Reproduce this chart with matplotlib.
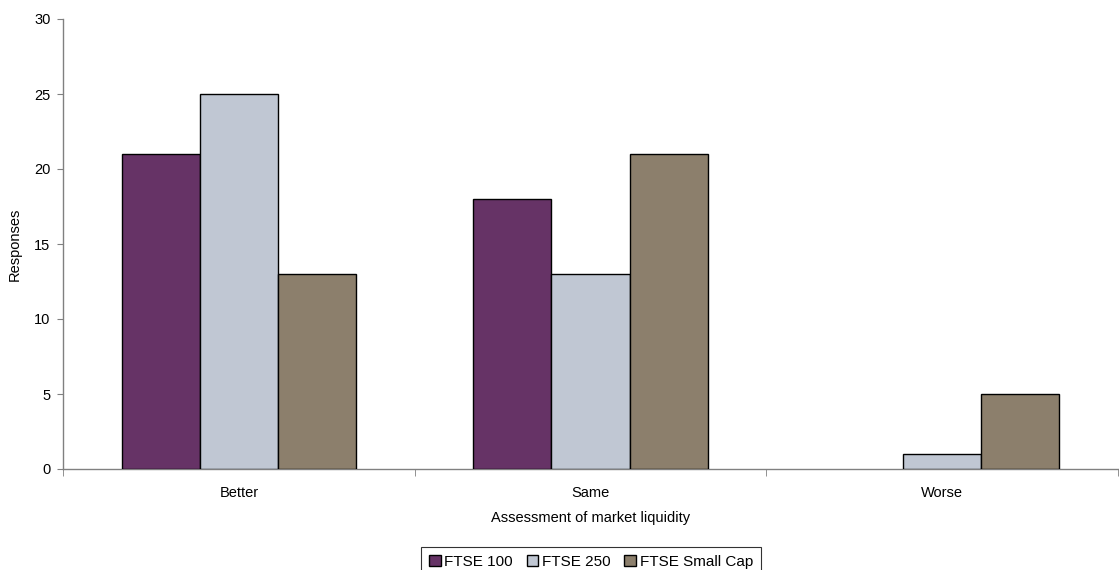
import numpy as np
import matplotlib
matplotlib.use("Agg")
import matplotlib.pyplot as plt

plt.rcParams['font.family'] = ['Liberation Sans', 'DejaVu Sans']

# --- Data ---
categories = ["Better", "Same", "Worse"]
series_names = ["FTSE 100", "FTSE 250", "FTSE Small Cap"]
ftse100 = [21, 18, 0]
ftse250 = [25, 13, 1]
small_cap = [13, 21, 5]
colors = ["#663366", "#C0C7D3", "#8C7F6C"]

fig = plt.figure(figsize=(11.19, 5.70), dpi=100)
ax = fig.add_axes([63 / 1119, 101 / 570, 1055 / 1119, 450 / 570])

x = np.arange(len(categories))
w = 0.222
for i, (vals, name) in enumerate(zip([ftse100, ftse250, small_cap], series_names)):
    lw = [1.0 if v > 0 else 0 for v in vals]
    ax.bar(x + (i - 1) * w, vals, width=w, color=colors[i], edgecolor="black",
           linewidth=lw, label=name, zorder=3)

ax.set_xlim(-0.5, len(categories) - 0.5)
ax.set_ylim(0, 30)
ax.set_yticks(np.arange(0, 31, 5))
ax.set_xticks(x)
ax.set_xticklabels(categories)
ax.set_xticks(np.arange(-0.5, len(categories), 1), minor=True)
ax.tick_params(axis='x', which='major', length=0, pad=12.5, labelsize=10.5)
ax.tick_params(axis='x', which='minor', length=5, color="#808080")
ax.tick_params(axis='y', length=4, color="#808080", labelsize=10.5, pad=5)

for s in ["top", "right"]:
    ax.spines[s].set_visible(False)
for s in ["left", "bottom"]:
    ax.spines[s].set_color("#808080")
    ax.spines[s].set_linewidth(1.0)

ax.set_ylabel("Responses", fontsize=10.5, labelpad=9)
ax.set_xlabel("Assessment of market liquidity", fontsize=10.5, labelpad=8)

leg = fig.legend(*ax.get_legend_handles_labels(), loc="upper center",
                 bbox_to_anchor=(591 / 1119, 23 / 570), ncol=3,
                 frameon=True, fancybox=False, fontsize=11, handlelength=0.75,
                 handleheight=0.75, handletextpad=0.25, columnspacing=0.9,
                 borderpad=0.5, borderaxespad=0)
leg.get_frame().set_edgecolor("black")
leg.get_frame().set_linewidth(0.8)

fig.savefig("out.png", dpi=100)
